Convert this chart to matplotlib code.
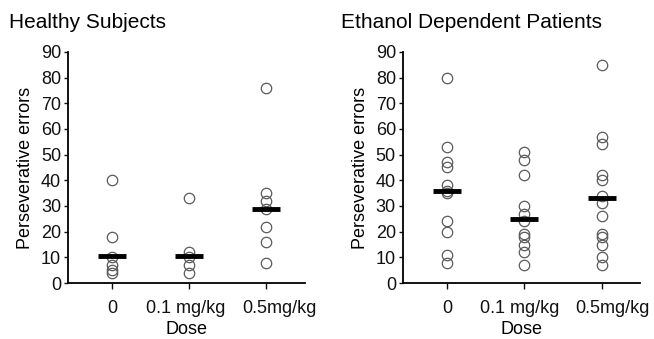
import matplotlib.pyplot as plt
import matplotlib.transforms as mtransforms

plt.rcParams['font.family'] = ['Liberation Sans', 'DejaVu Sans']

doses = ['0', '0.1 mg/kg', '0.5mg/kg']

# Healthy subjects: individual scores per dose
healthy_0 = [40, 18, 10, 7, 5, 4]
healthy_01 = [33, 12, 10, 7, 4]
healthy_05 = [76, 35, 32, 29, 22, 16, 8]
healthy_median = [10.5, 10.5, 29]

# Ethanol dependent patients
patients_0 = [80, 53, 47, 45, 38, 36, 35, 24, 20, 11, 8]
patients_01 = [51, 48, 42, 30, 27, 24, 19, 18, 15, 12, 7]
patients_05 = [85, 57, 54, 42, 40, 34, 31, 26, 19, 18, 15, 10, 7]
patients_median = [36, 25, 33]

fig = plt.figure(figsize=(6.54, 3.39), dpi=100)
ax1 = fig.add_axes([0.104, 0.165, 0.362, 0.682])
ax2 = fig.add_axes([0.616, 0.165, 0.363, 0.682])


def draw(ax, groups, medians, title, title_x, label_shift):
    for i, vals in enumerate(groups):
        ax.plot([i] * len(vals), vals, 'o', ms=7.5, mfc='none', mec='#5a5a5a',
                mew=0.9, clip_on=False)
        ax.hlines(medians[i], i - 0.18, i + 0.18, colors='black', lw=3.5, zorder=3)
    ax.set_xlim(-0.57, 2.5)
    ax.set_ylim(0, 90)
    ax.set_yticks(range(0, 91, 10))
    ax.set_xticks(range(len(doses)))
    ax.set_xticklabels(doses)
    ax.spines['top'].set_visible(False)
    ax.spines['right'].set_visible(False)
    ax.spines['left'].set_linewidth(1.3)
    ax.spines['bottom'].set_linewidth(1.3)
    ax.tick_params(labelsize=13, length=3, width=1, pad=2, colors='#111111')
    ax.tick_params(axis='x', length=4, pad=8)
    # labels in the original sit a little off their ticks
    for lab, dx in zip(ax.get_xticklabels(), label_shift):
        lab.set_transform(lab.get_transform() +
                          mtransforms.ScaledTranslation(dx / 100, 0, fig.dpi_scale_trans))
    ax.set_xlabel('Dose', fontsize=13, labelpad=3)
    ax.set_ylabel('Perseverative errors', fontsize=13, labelpad=5)
    fig.text(title_x, 0.935, title, fontsize=15, ha='left', va='center')


draw(ax1, [healthy_0, healthy_01, healthy_05], healthy_median,
     'Healthy Subjects', 0.014, [0, -3, 13])
draw(ax2, [patients_0, patients_01, patients_05], patients_median,
     'Ethanol Dependent Patients', 0.521, [0, -5, 11])

fig.savefig('out.png', dpi=100)
